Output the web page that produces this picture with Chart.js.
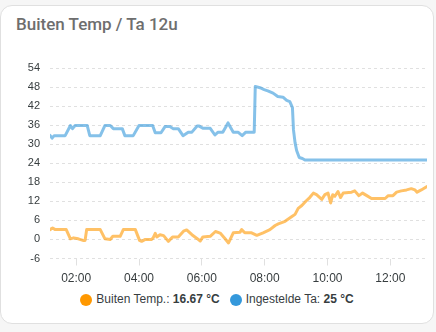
<!DOCTYPE html>
<html lang="nl">
<head>
  <meta charset="UTF-8" />
  <title>Buiten Temp / Ta 12u</title>
  <script src="https://cdn.jsdelivr.net/npm/chart.js"></script>
  <style>
    html, body { margin: 0; padding: 0; }
    body { width: 436px; height: 332px; background-color: #f6f6f6; position: relative; overflow: hidden; font-family: "Liberation Sans", Arial, sans-serif; }
    .card { position: absolute; left: 0; top: 5px; width: 432px; height: 317px; background: #fff; border: 1px solid #e0e0e0; border-radius: 12px; }
    .card-title { position: absolute; left: 16px; top: 14px; font-family: Roboto, sans-serif; font-size: 17px; line-height: 20px; font-weight: 500; color: #6e6e6e; white-space: nowrap; }
    #chart { position: absolute; left: 0; top: 0; }
    #legend { position: absolute; left: 0; top: 292px; width: 434px; height: 15px; display: flex; justify-content: center; align-items: center; font-size: 12px; line-height: 15px; color: #373d3f; }
    .legend-item { display: flex; align-items: center; margin: 0 5px; white-space: nowrap; }
    .legend-dot { width: 12px; height: 12px; border-radius: 50%; margin-right: 4px; }
  </style>
</head>
<body>
  <div class="card"></div>
  <div class="card-title">Buiten Temp / Ta 12u</div>
  <canvas id="chart" width="436" height="290"></canvas>
  <div id="legend"></div>

  <script>
    // buitentemperatuur (°C)
    const buitenTijden = ['01:10','01:15','01:20','01:41','01:49','01:55','02:04','02:13','02:17','02:20',
      '02:46','02:55','03:05','03:10','03:24','03:30','03:53','04:01','04:05','04:12',
      '04:24','04:27','04:31','04:34','04:40','04:47','04:56','05:04','05:15','05:25',
      '05:31','05:41','05:50','05:57','06:02','06:16','06:26','06:35','06:44','06:51',
      '07:00','07:13','07:16','07:22','07:35','07:45','07:57','08:10','08:20','08:26',
      '08:39','08:52','08:58','09:04','09:11','09:19','09:26','09:33','09:39','09:49',
      '09:55','10:01','10:06','10:10','10:14','10:20','10:25','10:30','10:46','10:52',
      '11:00','11:07','11:15','11:24','11:50','11:56','12:05','12:12','12:21','12:31',
      '12:40','12:47','12:51','12:59','13:10'];
    const buitenTemp = [3.1,3.6,3.1,3.1,0.2,0.5,0.2,-0.3,-0.3,3.1,
      3.1,0.2,0,1.0,1.0,3.1,3.1,-0.3,-0.6,0,
      0,0.5,1.9,0.8,1.5,1.2,-0.6,0.8,0.8,2.6,
      3.0,1.5,0.4,-0.5,0.8,1.0,2.5,2.0,0.3,-1.1,
      2.1,2.3,3.1,2.1,2.1,1.3,2.1,3.1,4.4,4.9,
      5.7,7.2,7.9,9.8,10.7,12.1,13.2,14.6,14.1,12.6,
      14.1,14.6,11.5,14.1,13.6,15.1,13.2,14.6,14.9,15.3,
      13.8,14.6,13.8,12.9,12.9,13.8,13.8,14.9,15.3,15.6,
      16.0,15.6,14.9,15.6,16.67];

    // ingestelde aanvoertemperatuur (°C)
    const ingesteldTijden = ['01:10','01:14','01:18','01:39','01:49','01:53','01:58','02:21','02:26','02:46',
      '02:55','03:05','03:11','03:28','03:33','03:49','04:00','04:26','04:31','04:42',
      '04:50','04:59','05:05','05:15','05:24','05:34','05:41','05:51','05:55','06:02',
      '06:16','06:25','06:31','06:40','06:50','07:00','07:09','07:17','07:24','07:40',
      '07:42','07:51','07:59','08:06','08:16','08:25','08:35','08:42','08:48','08:53',
      '08:55','08:58','09:01','09:06','09:12','09:17','13:10'];
    const ingesteldTa = [32.8,31.9,32.7,32.7,35.9,34.9,35.9,35.9,32.7,32.7,
      35.9,35.9,34.9,34.9,32.7,32.7,35.9,35.9,33.6,33.6,
      35.6,35.6,34.9,34.9,32.7,33.8,33.8,35.7,35.7,35.0,
      35.0,32.9,33.8,33.8,36.7,33.8,33.8,32.7,33.8,33.8,
      48.2,47.8,47.2,46.8,46.1,45.0,44.8,43.8,43.4,41.5,
      34.5,30.5,28.0,25.8,25.5,25,25];

    const tijdTicks = ['02:00','04:00','06:00','08:00','10:00','12:00'];
    const yTicks = [-6, 0, 6, 12, 18, 24, 30, 36, 42, 48, 54];
    const venster = ['01:10', '13:10'];

    const series = [
      { naam: 'Buiten Temp.', tijden: buitenTijden, waarden: buitenTemp, kleur: '#ff9800', lijn: 'rgba(255,152,0,0.6)' },
      { naam: 'Ingestelde Ta', tijden: ingesteldTijden, waarden: ingesteldTa, kleur: '#3498db', lijn: 'rgba(52,152,219,0.6)' }
    ];

    function toUren(t) {
      const [h, m] = t.split(':').map(Number);
      return h + m / 60;
    }

    function formatTijd(v) {
      const h = Math.floor(v + 1e-6);
      const m = Math.round((v - h) * 60);
      return String(h).padStart(2, '0') + ':' + String(m).padStart(2, '0');
    }

    Chart.defaults.font.family = '"Liberation Sans", Arial, sans-serif';
    Chart.defaults.color = '#373d3f';

    new Chart(document.getElementById('chart').getContext('2d'), {
      type: 'line',
      data: {
        datasets: series.map(s => ({
          label: s.naam,
          data: s.tijden.map((t, i) => ({ x: toUren(t), y: s.waarden[i] })),
          borderColor: s.lijn,
          borderWidth: 3,
          pointRadius: 0,
          tension: 0,
          borderJoinStyle: 'round',
          borderCapStyle: 'round',
          fill: false
        }))
      },
      options: {
        responsive: false,
        animation: false,
        layout: { padding: { top: 68, right: 9, left: 0, bottom: 0 } },
        plugins: { legend: { display: false }, tooltip: { enabled: false } },
        scales: {
          x: {
            type: 'linear',
            min: toUren(venster[0]),
            max: toUren(venster[1]),
            afterBuildTicks: scale => { scale.ticks = tijdTicks.map(t => ({ value: toUren(t) })); },
            afterFit: scale => { scale.height = 31.5; },
            grid: { drawOnChartArea: false, drawTicks: true, tickLength: 7, color: '#e0e0e0', tickBorderDash: [] },
            border: { display: false },
            ticks: { font: { size: 12 }, padding: 6, maxRotation: 0, autoSkip: false, callback: v => formatTijd(v) }
          },
          y: {
            min: yTicks[0],
            max: yTicks[yTicks.length - 1],
            afterBuildTicks: scale => { scale.ticks = yTicks.map(v => ({ value: v })); },
            afterFit: scale => { scale.width = 50; },
            grid: { color: '#e0e0e0', drawTicks: false, lineWidth: 1 },
            border: { display: false, dash: [3, 3] },
            ticks: { font: { size: 11 }, padding: 10 }
          }
        }
      }
    });

    // legenda met de laatste waarde van elke reeks
    const legend = document.getElementById('legend');
    series.forEach(s => {
      const laatste = s.waarden[s.waarden.length - 1];
      const item = document.createElement('div');
      item.className = 'legend-item';
      item.innerHTML = `<span class="legend-dot" style="background:${s.kleur}"></span>` +
        `<span>${s.naam}: <b>${laatste} °C</b></span>`;
      legend.appendChild(item);
    });
  </script>
</body>
</html>
